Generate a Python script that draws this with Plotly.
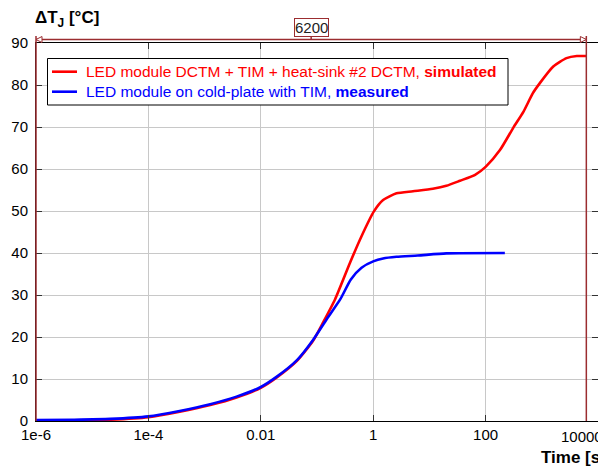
import plotly.graph_objects as go
import numpy as np

# ---- data ----
sim_t = [1e-6, 4.6e-6, 2.1e-5, 1e-4, 3.6e-4, 1.26e-3, 3.7e-3, 0.01, 0.019, 0.044,
         0.085, 0.13, 0.21, 0.39, 0.62, 1.03, 1.5, 2.6, 5.1, 11.5, 20, 35, 65,
         100, 180, 310, 470, 690, 930, 1600, 2750, 4200, 6200]
sim_v = [0.0, 0.1, 0.3, 0.9, 2.2, 3.8, 5.6, 7.9, 10.3, 14.3,
         19.1, 23.6, 29.0, 37.8, 44.0, 49.9, 52.6, 54.2, 54.7, 55.3, 56.0, 57.2, 58.6,
         60.5, 64.5, 69.8, 73.6, 78.0, 80.5, 84.4, 86.4, 86.9, 86.9]

meas_t = [1e-6, 4.6e-6, 2.1e-5, 1e-4, 3.6e-4, 1.26e-3, 3.7e-3, 0.01, 0.019, 0.044,
          0.085, 0.145, 0.26, 0.4, 0.62, 1.0, 1.5, 2.6, 6.2, 20, 220]
meas_v = [0.2, 0.3, 0.5, 1.1, 2.4, 4.0, 5.8, 8.1, 10.5, 14.5,
          19.3, 24.0, 29.0, 33.7, 36.5, 38.0, 38.7, 39.1, 39.4, 39.9, 40.0]

x_tickvals = [1e-6, 1e-4, 1e-2, 1, 100, 10000]
x_ticktext = ["1e-6", "1e-4", "0.01", "1", "100", "10000"]
y_tickvals = [0, 10, 20, 30, 40, 50, 60, 70, 80, 90]

sim_name = "LED module DCTM + TIM + heat-sink #2 DCTM, <b>simulated</b>"
meas_name = "LED module on cold-plate with TIM, <b>measured</b>"
sim_color = "#ff0000"
meas_color = "#0000ff"

cursor_left = 1e-6
cursor_right = 6200

FONT = "Liberation Sans, Arial, sans-serif"
CUR = "#9b2d30"

W, H = 598, 466
ML, MR, MT, MB = 36, 0, 43, 45
PW, PH = W - ML - MR, H - MT - MB
XLOG = (-6, 4)

def xp(t):  # time -> paper x
    return (np.log10(t) - XLOG[0]) / (XLOG[1] - XLOG[0])

def pxx(px):  # absolute pixel x -> paper
    return (px - ML) / PW

def pxy(py):  # absolute pixel y (from top) -> paper
    return (MT + PH - py) / PH

fig = go.Figure()
fig.add_trace(go.Scatter(
    x=sim_t, y=sim_v, mode="lines", name=sim_name, showlegend=False,
    line=dict(color=sim_color, width=2.6, shape="spline", smoothing=0.6)))
fig.add_trace(go.Scatter(
    x=meas_t, y=meas_v, mode="lines", name=meas_name, showlegend=False,
    line=dict(color=meas_color, width=2.6, shape="spline", smoothing=0.6)))

axis_common = dict(showline=True, linecolor="black", linewidth=1, mirror="ticks",
                   ticks="inside", ticklen=6, tickcolor="#333333",
                   showgrid=True, gridcolor="#c8c8c8", gridwidth=1, automargin=False,
                   ticklabeloverflow="allow",
                   tickfont=dict(family=FONT, size=15, color="black"), zeroline=False)

# the last x label is shifted left at the plot edge (as in the reference), drawn below
fig.update_xaxes(type="log", range=list(XLOG), tickvals=x_tickvals,
                 ticktext=x_ticktext[:-1] + [""], **axis_common)
fig.update_yaxes(range=[0, 90], tickvals=y_tickvals, ticklabelstandoff=4, **axis_common)

fig.add_annotation(xref="paper", yref="paper", x=pxx(559), y=pxy(436),
                   text=x_ticktext[-1], showarrow=False, xanchor="left", yanchor="middle",
                   font=dict(family=FONT, size=15, color="black"))

# cursor decorations
yl = 39.5
xl, xr = xp(cursor_left), xp(cursor_right)
dxp = 6 / PW
dyp = 3 / PH
shapes = [
    dict(type="line", xref="paper", yref="paper", x0=xl, x1=xl, y0=0, y1=pxy(36),
         line=dict(color=CUR, width=1.5)),
    dict(type="line", xref="paper", yref="paper", x0=xr, x1=xr, y0=0, y1=pxy(36),
         line=dict(color=CUR, width=1.5)),
    dict(type="line", xref="paper", yref="paper", x0=xl, x1=xr, y0=pxy(yl), y1=pxy(yl),
         line=dict(color=CUR, width=1.5)),
    dict(type="path", xref="paper", yref="paper",
         path=f"M {xr} {pxy(yl)} L {xr - dxp} {pxy(yl) + dyp} L {xr - dxp} {pxy(yl) - dyp} Z",
         line=dict(color=CUR, width=1), fillcolor="white"),
    dict(type="path", xref="paper", yref="paper",
         path=f"M {xl} {pxy(yl)} L {xl + dxp} {pxy(yl) + dyp} L {xl + dxp} {pxy(yl) - dyp} Z",
         line=dict(color=CUR, width=1), fillcolor="white"),
]
xmid = (xl + xr) / 2
shapes.append(dict(type="line", xref="paper", yref="paper", x0=xmid, x1=xmid,
                   y0=pxy(yl), y1=pxy(35), line=dict(color=CUR, width=1.5)))

# legend box (manual, to match the reference layout)
shapes.append(dict(type="rect", xref="paper", yref="paper",
                   x0=pxx(47.5), x1=pxx(508), y0=pxy(58.5), y1=pxy(105),
                   line=dict(color="black", width=1), fillcolor="white", layer="above"))
for yy, col in ((71.7, sim_color), (91.7, meas_color)):
    shapes.append(dict(type="line", xref="paper", yref="paper",
                       x0=pxx(52), x1=pxx(77), y0=pxy(yy), y1=pxy(yy),
                       line=dict(color=col, width=2.6), layer="above"))
fig.update_layout(shapes=shapes)

for yy, col, txt in ((71.7, sim_color, sim_name), (91.7, meas_color, meas_name)):
    fig.add_annotation(xref="paper", yref="paper", x=pxx(84), y=pxy(yy),
                       text=txt, showarrow=False, xanchor="left", yanchor="middle",
                       font=dict(family=FONT, size=15.5, color=col))

fig.add_annotation(xref="paper", yref="paper", x=xmid, y=pxy(27.5),
                   text=f"{cursor_right:g}", showarrow=False,
                   font=dict(family=FONT, size=15, color="#222222"),
                   bordercolor=CUR, borderwidth=1, borderpad=0, bgcolor="white",
                   xanchor="center", yanchor="middle")
fig.add_annotation(xref="paper", yref="paper", x=pxx(33), y=pxy(19),
                   text="<b>ΔT<sub>J</sub> [°C]</b>", showarrow=False,
                   font=dict(family=FONT, size=17, color="black"),
                   xanchor="left", yanchor="middle")
fig.add_annotation(xref="paper", yref="paper", x=pxx(539), y=pxy(457),
                   text="<b>Time [s]</b>", showarrow=False,
                   font=dict(family=FONT, size=17, color="black"),
                   xanchor="left", yanchor="middle")

fig.update_layout(
    width=W, height=H,
    margin=dict(l=ML, r=MR, t=MT, b=MB, pad=0, autoexpand=False),
    paper_bgcolor="white", plot_bgcolor="white",
    font=dict(family=FONT, size=15, color="black"),
    showlegend=False,
)

fig.write_html("out.html", config={"displayModeBar": False},
               post_script="document.body.style.margin='0';document.body.style.overflow='hidden';")
